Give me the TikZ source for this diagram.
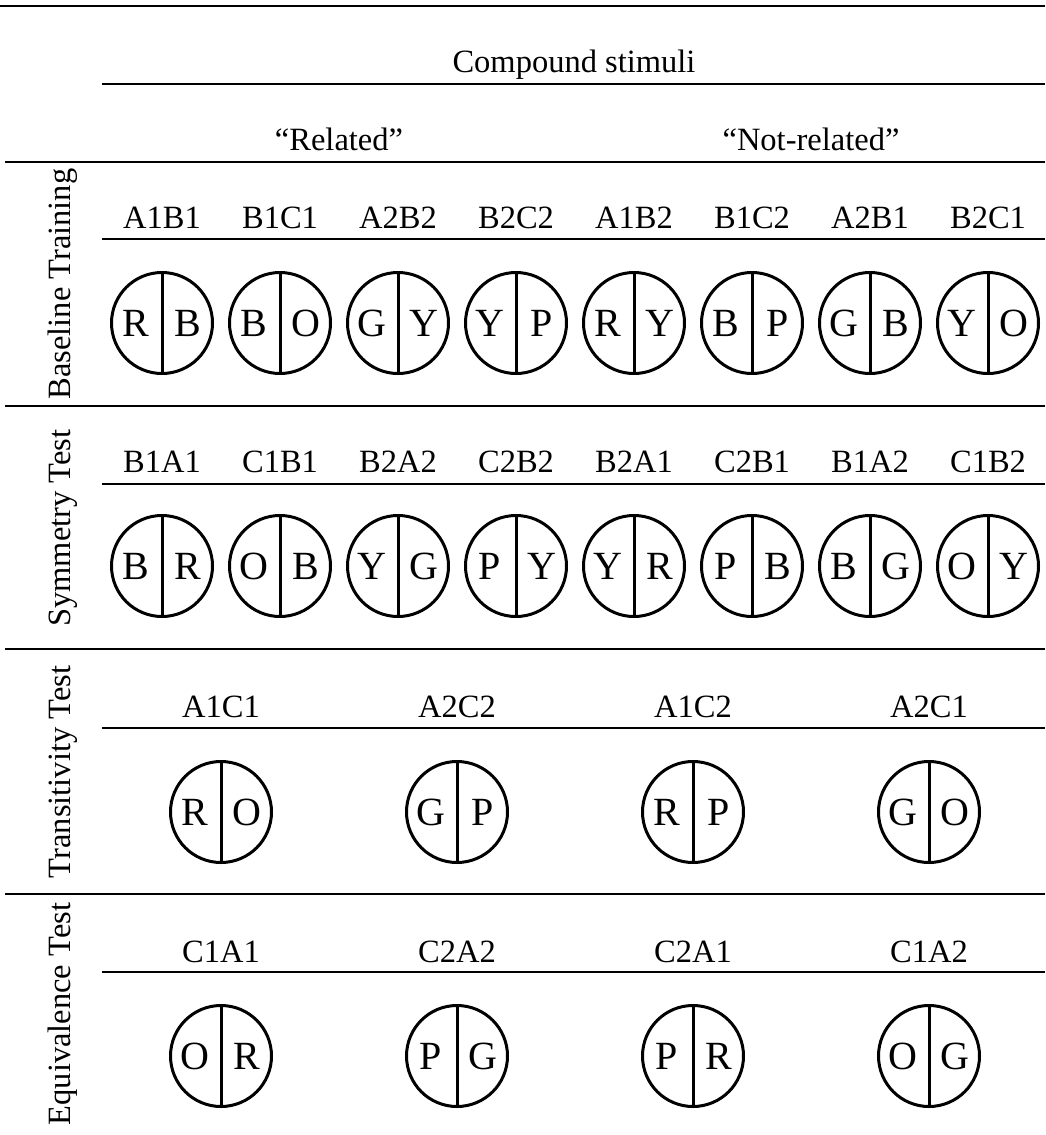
\documentclass[tikz,border=0pt]{standalone}
\usepackage{fontspec}
\setmainfont{Liberation Serif}
\usetikzlibrary{calc}
\tikzset{
   rule/.style={line width=2.8pt},
   stim/.style={draw, circle, line width=3pt, minimum size=101pt, inner sep=0pt},
   divider/.style={line width=3pt},
   letter/.style={font=\fontsize{40}{44}\selectfont, inner sep=0pt},
   code/.style={font=\fontsize{32.5}{36}\selectfont, anchor=base, inner sep=0pt},
   phase/.style={font=\fontsize{32.5}{36}\selectfont, rotate=90, inner sep=0pt}
}

\begin{document}
\begin{tikzpicture}[x=1pt,y=-1pt]
  \useasboundingbox (0,0) rectangle (1045,1135);
  % table rules
  \draw[rule] (0,6) -- (1045,6);
  \draw[rule] (102,84) -- (1045,84);
  \draw[rule] (5,162) -- (1045,162);
  \draw[rule] (102,239) -- (1045,239);
  \draw[rule] (5,406) -- (1045,406);
  \draw[rule] (102,484) -- (1045,484);
  \draw[rule] (5,649) -- (1045,649);
  \draw[rule] (102,728) -- (1045,728);
  \draw[rule] (5,894) -- (1045,894);
  \draw[rule] (102,972) -- (1045,972);

  % headings
  \node[code] (compound) at (574,72) {Compound stimuli};
  \node[code] (related) at (339,150) {“Related”};
  \node[code] (notrelated) at (811,150) {“Not-related”};

  % phases
  \node[phase] (baseline) at (63,284) {Baseline Training};
  \node[phase] (symmetry) at (63,528) {Symmetry Test};
  \node[phase] (transitivity) at (63,772) {Transitivity Test};
  \node[phase] (equivalence) at (63,1014) {Equivalence Test};

  % baseline training
  \foreach \lab/\l/\r [count=\i from 0] in {A1B1/R/B, B1C1/B/O, A2B2/G/Y, B2C2/Y/P,
                                           A1B2/R/Y, B1C2/B/P, A2B1/G/B, B2C1/Y/O} {
    \node[code] (bt-\i) at (162+118*\i,228) {\lab};
    \node[stim] (bs-\i) at (162+118*\i,323) {};
    \draw[divider] (bs-\i.north) -- (bs-\i.south);
    \node[letter, xshift=-26pt] (bs-\i-l) at (bs-\i) {\l};
    \node[letter, xshift=26pt] (bs-\i-r) at (bs-\i) {\r};
  }

  % symmetry test
  \foreach \lab/\l/\r [count=\i from 0] in {B1A1/B/R, C1B1/O/B, B2A2/Y/G, C2B2/P/Y,
                                           B2A1/Y/R, C2B1/P/B, B1A2/B/G, C1B2/O/Y} {
    \node[code] (st-\i) at (162+118*\i,472) {\lab};
    \node[stim] (ss-\i) at (162+118*\i,566) {};
    \draw[divider] (ss-\i.north) -- (ss-\i.south);
    \node[letter, xshift=-26pt] (ss-\i-l) at (ss-\i) {\l};
    \node[letter, xshift=26pt] (ss-\i-r) at (ss-\i) {\r};
  }

  % transitivity test
  \foreach \lab/\l/\r [count=\i from 0] in {A1C1/R/O, A2C2/G/P, A1C2/R/P, A2C1/G/O} {
    \node[code] (tt-\i) at (221+236*\i,717) {\lab};
    \node[stim] (ts-\i) at (221+236*\i,812) {};
    \draw[divider] (ts-\i.north) -- (ts-\i.south);
    \node[letter, xshift=-26pt] (ts-\i-l) at (ts-\i) {\l};
    \node[letter, xshift=26pt] (ts-\i-r) at (ts-\i) {\r};
  }

  % equivalence test
  \foreach \lab/\l/\r [count=\i from 0] in {C1A1/O/R, C2A2/P/G, C2A1/P/R, C1A2/O/G} {
    \node[code] (et-\i) at (221+236*\i,962) {\lab};
    \node[stim] (es-\i) at (221+236*\i,1056) {};
    \draw[divider] (es-\i.north) -- (es-\i.south);
    \node[letter, xshift=-26pt] (es-\i-l) at (es-\i) {\l};
    \node[letter, xshift=26pt] (es-\i-r) at (es-\i) {\r};
  }
\end{tikzpicture}
\end{document}
